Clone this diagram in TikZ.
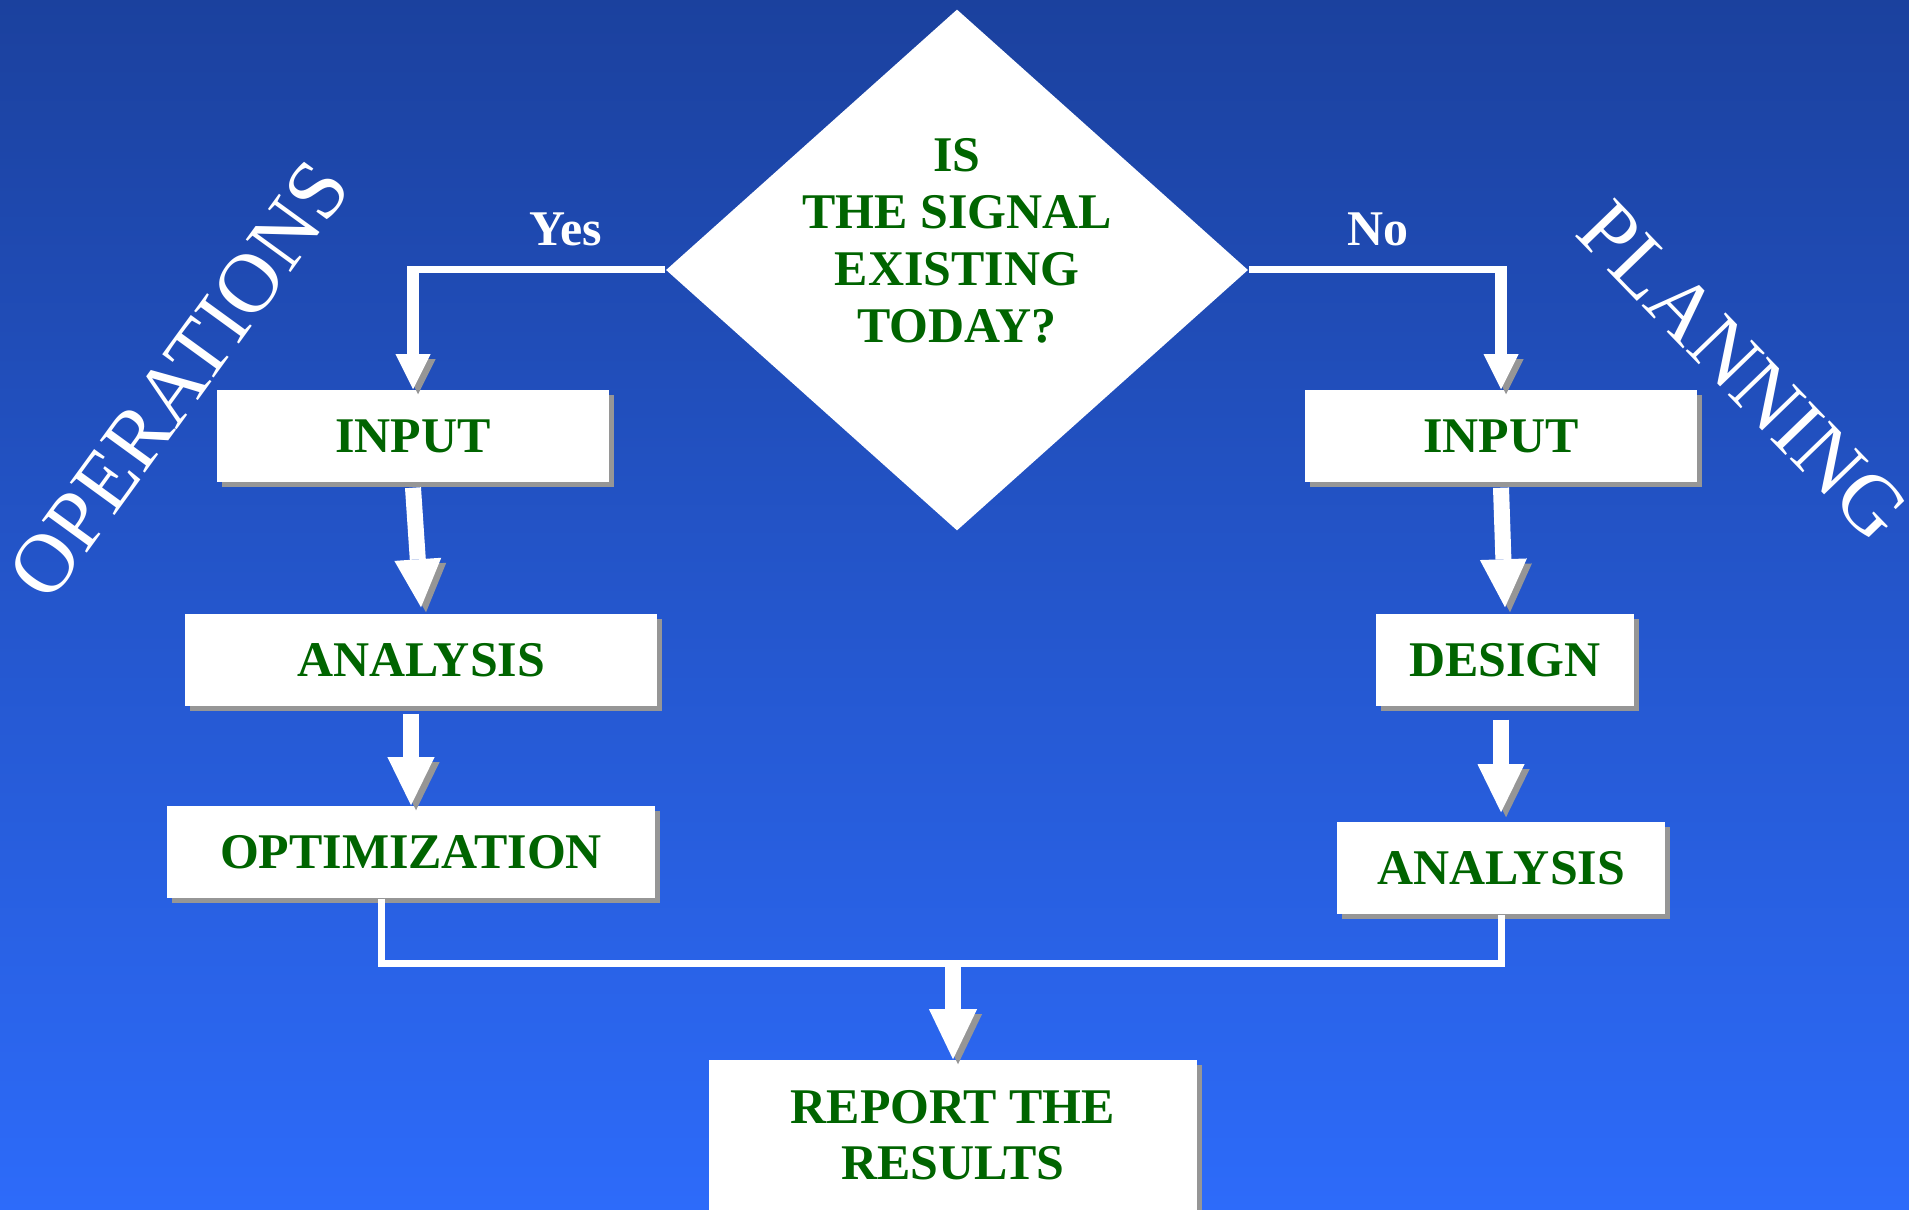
\documentclass[tikz,border=0pt]{standalone}
\usepackage{fontspec}
\setmainfont{Liberation Serif}
\usetikzlibrary{shapes.geometric,arrows.meta,shadows}

\definecolor{bgtop}{RGB}{27,65,158}
\definecolor{bgbot}{RGB}{45,107,250}
\definecolor{boxgreen}{RGB}{0,100,0}
\definecolor{shadowgray}{RGB}{150,150,150}

\tikzset{
  stepbox/.style={rectangle, fill=white, text=boxgreen, inner sep=0pt,
    minimum height=0.92cm, align=center,
    font=\fontsize{14.2}{16}\selectfont\bfseries,
    drop shadow={shadow xshift=0.05cm, shadow yshift=-0.05cm, fill=shadowgray, opacity=1}},
  decision/.style={diamond, fill=white, inner sep=0pt,
    minimum width=5.82cm, minimum height=5.21cm},
  qtext/.style={text=boxgreen, align=center, inner sep=0pt,
    font=\fontsize{14.2}{16.2}\selectfont\bfseries},
  answer/.style={text=white, inner sep=0pt, font=\fontsize{14.2}{16}\selectfont\bfseries},
  sidelabel/.style={text=white, inner sep=0pt, font=\fontsize{24}{28}\selectfont},
  grayback/.style={preaction={draw=shadowgray, transform canvas={shift={(0.05cm,-0.05cm)}}}},
  joinline/.style={draw=white, line width=0.07cm},
  thinarrow/.style={draw=white, line width=0.12cm,
    -{Triangle[width=0.35cm, length=0.35cm, line width=0pt]}, grayback},
  fatarrow/.style={draw=white, line width=0.16cm,
    -{Triangle[width=0.47cm, length=0.48cm, line width=0pt]}, grayback}
}

\begin{document}
\begin{tikzpicture}[x=0.01cm, y=-0.01cm]
  \useasboundingbox (0,0) rectangle (1909,1210);
  \clip (0,0) rectangle (1909,1210);
  \shade[top color=bgtop, bottom color=bgbot] (0,0) rectangle (1909,1210);

  % question
  \node[decision] (q) at (957,270) {};
  \node[qtext] (qt) at (957,241) {IS\\THE SIGNAL\\EXISTING\\TODAY?};

  \node[answer] (yes) at (566,229) {Yes};
  \node[answer] (no) at (1378,229) {No};

  \node[sidelabel, rotate=54] (ops) at (179,380) {OPERATIONS};
  \node[sidelabel, rotate=-46] (plan) at (1743,371) {PLANNING};

  % operations side
  \node[stepbox, minimum width=3.91cm] (inL) at (413,436) {INPUT};
  \node[stepbox, minimum width=4.72cm] (anL) at (421,660) {ANALYSIS};
  \node[stepbox, minimum width=4.88cm] (opL) at (411,852) {OPTIMIZATION};

  % planning side
  \node[stepbox, minimum width=3.92cm] (inR) at (1501,436) {INPUT};
  \node[stepbox, minimum width=2.57cm] (deR) at (1505,660) {DESIGN};
  \node[stepbox, minimum width=3.28cm] (anR) at (1501,868) {ANALYSIS};

  \node[stepbox, minimum width=4.88cm, minimum height=1.5cm] (rep) at (953,1135) {REPORT THE\\RESULTS};

  \coordinate (cL) at (inL.north |- q.west);
  \coordinate (cR) at (inR.north |- q.east);
  \draw[joinline] (q.west) -- ([xshift=-0.06cm]cL);
  \draw[thinarrow] ([yshift=0.035cm]cL) -- (inL.north);
  \draw[joinline] (q.east) -- ([xshift=0.06cm]cR);
  \draw[thinarrow] ([yshift=0.035cm]cR) -- (inR.north);

  \coordinate (aO) at (anL.south -| opL.north);
  \draw[fatarrow] ([yshift=-0.05cm]inL.south) -- ([yshift=0.06cm]anL.north);
  \draw[fatarrow] ([yshift=-0.07cm]aO) -- (opL.north);

  \coordinate (dA) at (deR.south -| anR.north);
  \draw[fatarrow] ([yshift=-0.05cm]inR.south) -- ([yshift=0.06cm]deR.north);
  \draw[fatarrow] ([yshift=-0.13cm]dA) -- ([yshift=0.09cm]anR.north);

  % both sides meet
  \coordinate (oB) at ([xshift=-0.29cm]opL.south);
  \coordinate (jL) at ([yshift=-0.65cm]oB);
  \coordinate (jR) at (anR.south |- jL);
  \coordinate (jM) at (rep.north |- jL);
  \draw[joinline] (oB) -- (jL) -- (jR) -- (anR.south);
  \draw[fatarrow, -{Triangle[width=0.48cm, length=0.5cm, line width=0pt]}] (jM) -- (rep.north);
\end{tikzpicture}
\end{document}
